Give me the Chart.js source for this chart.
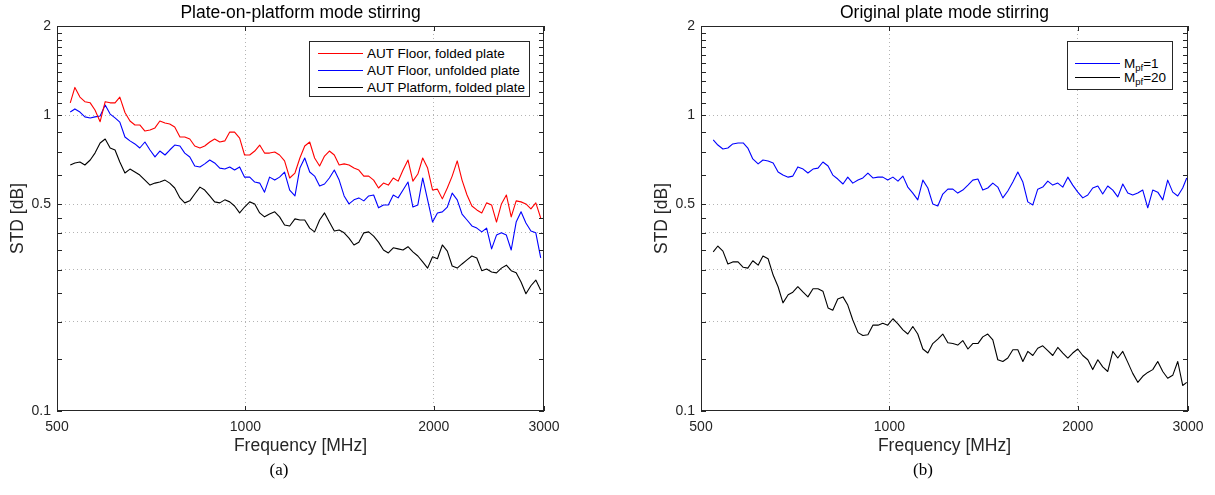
<!DOCTYPE html>
<html>
<head>
<meta charset="utf-8">
<script src="https://cdn.jsdelivr.net/npm/chart.js@4.4.0/dist/chart.umd.min.js"></script>
<style>
  html, body { margin: 0; padding: 0; background: #fff; overflow: hidden; }
  body { width: 1215px; height: 495px; position: relative; font-family: "Liberation Sans", Arial, sans-serif; }
  canvas { position: absolute; top: 0; }
  .legend { position: absolute; box-sizing: border-box; border: 1px solid #262626; background: #fff; font-size: 13.5px; color: #000; }
  .row { position: absolute; left: 0; height: 16px; display: flex; align-items: center; white-space: nowrap; }
  .swatch { width: 45px; height: 1px; margin-right: 4px; flex: none; }
  .row sub { font-size: 9.5px; position: relative; top: 4px; vertical-align: baseline; line-height: 0; }
  .caption { position: absolute; top: 460px; width: 40px; text-align: center; font-family: "Liberation Serif", "Times New Roman", serif; font-size: 17px; line-height: 20px; }
</style>
</head>
<body>
<canvas id="plateOnPlatform" width="601" height="461" style="left:0px"></canvas>
<canvas id="originalPlate" width="601" height="461" style="left:644px"></canvas>

<div class="legend" style="left:309px;top:41px;width:221px;height:56px">
  <div class="row" style="top:3.5px;left:8px"><div class="swatch" style="background:#ff0000"></div>AUT Floor, folded plate</div>
  <div class="row" style="top:20.5px;left:8px"><div class="swatch" style="background:#0000ff"></div>AUT Floor, unfolded plate</div>
  <div class="row" style="top:37.5px;left:8px"><div class="swatch" style="background:#000000"></div>AUT Platform, folded plate</div>
</div>
<div class="legend" style="left:1067px;top:41px;width:106px;height:49px">
  <div class="row" style="top:13.5px;left:7px"><div class="swatch" style="background:#0000ff"></div>M<sub>pf</sub>=1</div>
  <div class="row" style="top:27.5px;left:7px"><div class="swatch" style="background:#000000"></div>M<sub>pf</sub>=20</div>
</div>

<div class="caption" style="left:259px">(a)</div>
<div class="caption" style="left:903px">(b)</div>

<script>
// left panel: plate-on-platform
const freqLeft = [525, 534, 544, 554, 565, 575, 586, 597, 608, 619,
  630, 642, 654, 666, 678, 691, 704, 717, 730, 744,
  757, 771, 786, 800, 815, 830, 846, 861, 877, 893,
  910, 927, 944, 961, 979, 997, 1016, 1035, 1054, 1073,
  1093, 1114, 1134, 1155, 1177, 1200, 1222, 1244, 1267, 1290,
  1314, 1338, 1362, 1387, 1412, 1438, 1464, 1491, 1518, 1546,
  1574, 1603, 1632, 1662, 1692, 1723, 1754, 1786, 1819, 1852,
  1886, 1920, 1955, 1991, 2027, 2064, 2102, 2140, 2180, 2219,
  2260, 2301, 2343, 2386, 2429, 2474, 2519, 2565, 2612, 2659,
  2708, 2757, 2807, 2859, 2911, 2964];

const redFloorFolded = [1.10, 1.24, 1.15, 1.11, 1.10, 1.04, 0.95, 1.11, 1.10, 1.10,
  1.15, 1.02, 0.955, 0.926, 0.926, 0.883, 0.890, 0.905, 0.955, 0.940,
  0.933, 0.912, 0.843, 0.843, 0.830, 0.786, 0.774, 0.786, 0.811, 0.830,
  0.811, 0.818, 0.876, 0.876, 0.836, 0.733, 0.733, 0.756, 0.792, 0.744,
  0.744, 0.750, 0.733, 0.700, 0.613, 0.637, 0.716, 0.786, 0.811, 0.716,
  0.673, 0.727, 0.756, 0.733, 0.678, 0.684, 0.678, 0.662, 0.652, 0.622,
  0.622, 0.603, 0.567, 0.589, 0.580, 0.613, 0.598, 0.652, 0.705, 0.598,
  0.632, 0.716, 0.662, 0.558, 0.562, 0.521, 0.567, 0.622, 0.700, 0.603,
  0.537, 0.493, 0.478, 0.467, 0.505, 0.497, 0.435, 0.501, 0.537, 0.453,
  0.513, 0.509, 0.501, 0.482, 0.505, 0.449];

const blueFloorUnfolded = [1.024, 1.049, 1.024, 0.986, 0.978, 0.986, 0.993, 1.082, 1.008, 0.978,
  0.947, 0.843, 0.818, 0.799, 0.774, 0.811, 0.762, 0.722, 0.756, 0.733,
  0.762, 0.792, 0.786, 0.744, 0.722, 0.673, 0.668, 0.684, 0.705, 0.689,
  0.662, 0.657, 0.668, 0.652, 0.668, 0.617, 0.617, 0.594, 0.589, 0.549,
  0.617, 0.603, 0.617, 0.642, 0.558, 0.533, 0.662, 0.716, 0.642, 0.622,
  0.576, 0.585, 0.613, 0.652, 0.603, 0.533, 0.501, 0.517, 0.525, 0.513,
  0.533, 0.537, 0.486, 0.497, 0.497, 0.537, 0.525, 0.558, 0.594, 0.489,
  0.497, 0.613, 0.517, 0.435, 0.467, 0.471, 0.489, 0.545, 0.517, 0.463,
  0.442, 0.422, 0.415, 0.403, 0.415, 0.353, 0.393, 0.400, 0.393, 0.350,
  0.435, 0.471, 0.432, 0.406, 0.400, 0.329];

const blackPlatformFolded = [0.678, 0.689, 0.694, 0.678, 0.705, 0.744, 0.805, 0.830, 0.774, 0.762,
  0.694, 0.637, 0.657, 0.642, 0.627, 0.603, 0.580, 0.589, 0.594, 0.603,
  0.589, 0.567, 0.525, 0.505, 0.513, 0.541, 0.571, 0.558, 0.533, 0.509,
  0.505, 0.517, 0.509, 0.493, 0.467, 0.489, 0.509, 0.501, 0.467, 0.453,
  0.463, 0.471, 0.453, 0.425, 0.422, 0.446, 0.442, 0.442, 0.415, 0.403,
  0.442, 0.467, 0.435, 0.406, 0.409, 0.400, 0.384, 0.364, 0.372, 0.400,
  0.403, 0.390, 0.372, 0.350, 0.342, 0.356, 0.353, 0.350, 0.359, 0.345,
  0.334, 0.319, 0.304, 0.332, 0.327, 0.364, 0.347, 0.309, 0.304, 0.314,
  0.324, 0.334, 0.329, 0.298, 0.302, 0.295, 0.293, 0.304, 0.311, 0.298,
  0.293, 0.273, 0.249, 0.265, 0.277, 0.256];

// right panel: original plate
const freqRight = [523, 532, 542, 552, 562, 573, 584, 594, 605, 617,
  628, 640, 652, 664, 676, 689, 701, 714, 728, 741,
  755, 769, 783, 798, 812, 827, 843, 858, 874, 891,
  907, 924, 941, 959, 976, 994, 1013, 1032, 1051, 1070,
  1090, 1110, 1131, 1152, 1173, 1195, 1217, 1240, 1263, 1286,
  1310, 1335, 1359, 1385, 1410, 1436, 1463, 1490, 1518, 1546,
  1575, 1604, 1634, 1664, 1695, 1726, 1758, 1791, 1824, 1858,
  1893, 1928, 1963, 2000, 2037, 2075, 2113, 2153, 2192, 2233,
  2275, 2317, 2360, 2404, 2448, 2494, 2540, 2587, 2635, 2684,
  2734, 2784, 2836, 2889, 2942, 2986];

const blueMpf1 = [0.824, 0.792, 0.768, 0.774, 0.799, 0.805, 0.805, 0.774, 0.711, 0.684,
  0.705, 0.700, 0.689, 0.642, 0.627, 0.617, 0.622, 0.668, 0.657, 0.637,
  0.657, 0.662, 0.694, 0.673, 0.627, 0.608, 0.585, 0.617, 0.589, 0.603,
  0.613, 0.637, 0.613, 0.617, 0.617, 0.603, 0.617, 0.598, 0.622, 0.571,
  0.545, 0.517, 0.603, 0.567, 0.501, 0.493, 0.541, 0.562, 0.562, 0.545,
  0.558, 0.580, 0.603, 0.608, 0.558, 0.567, 0.589, 0.571, 0.525, 0.554,
  0.594, 0.642, 0.594, 0.509, 0.497, 0.562, 0.571, 0.598, 0.580, 0.589,
  0.571, 0.617, 0.580, 0.549, 0.525, 0.537, 0.567, 0.576, 0.541, 0.576,
  0.558, 0.529, 0.585, 0.545, 0.537, 0.545, 0.558, 0.486, 0.558, 0.549,
  0.517, 0.603, 0.549, 0.533, 0.567, 0.613];

const blackMpf20 = [0.345, 0.361, 0.347, 0.314, 0.319, 0.319, 0.306, 0.304, 0.322, 0.311,
  0.334, 0.327, 0.288, 0.263, 0.232, 0.247, 0.252, 0.263, 0.252, 0.243,
  0.259, 0.259, 0.254, 0.223, 0.219, 0.239, 0.243, 0.228, 0.203, 0.184,
  0.180, 0.181, 0.195, 0.195, 0.198, 0.195, 0.205, 0.197, 0.188, 0.182,
  0.193, 0.182, 0.162, 0.157, 0.169, 0.175, 0.182, 0.170, 0.169, 0.167,
  0.173, 0.162, 0.169, 0.169, 0.178, 0.182, 0.174, 0.149, 0.147, 0.151,
  0.161, 0.161, 0.147, 0.159, 0.154, 0.163, 0.166, 0.160, 0.154, 0.164,
  0.157, 0.151, 0.157, 0.162, 0.154, 0.149, 0.138, 0.149, 0.141, 0.136,
  0.159, 0.151, 0.159, 0.146, 0.134, 0.125, 0.131, 0.135, 0.138, 0.147,
  0.136, 0.129, 0.132, 0.147, 0.122, 0.125];

// axes
const xTickValues = [500, 1000, 2000, 3000];
const xGridValues = [1000, 2000];
const yTickValues = [0.1, 0.2, 0.3, 0.4, 0.5, 1, 2];
const yTickLabels = ['0.1', '', '', '', '0.5', '1', '2'];
const yGridValues = [0.2, 0.3, 0.4, 0.5, 1];
const yMinorTicks = [0.15, 0.25, 0.35, 0.45, 0.625, 0.75, 0.875, 1.1, 1.2, 1.3, 1.4, 1.5, 1.6, 1.7, 1.8, 1.9];

const axisColor = '#262626';
const gridColor = '#b4b4b4';
const font = '"Liberation Sans", Arial, sans-serif';

function pts(freq, vals) {
  return freq.map((f, i) => ({ x: f, y: vals[i] }));
}

// box around the plot + inward ticks, like matlab
const framePlugin = {
  id: 'frame',
  afterDatasetsDraw(chart) {
    const { ctx, chartArea: a, scales: { x, y } } = chart;
    const tl = 5;
    ctx.save();
    ctx.strokeStyle = axisColor;
    ctx.lineWidth = 1;
    ctx.beginPath();
    yTickValues.concat(yMinorTicks).forEach(v => {
      const py = Math.round(y.getPixelForValue(v)) + 0.5;
      ctx.moveTo(a.left, py); ctx.lineTo(a.left + tl, py);
      ctx.moveTo(a.right, py); ctx.lineTo(a.right - tl, py);
    });
    xTickValues.forEach(v => {
      const px = Math.round(x.getPixelForValue(v)) + 0.5;
      ctx.moveTo(px, a.bottom); ctx.lineTo(px, a.bottom - tl);
      ctx.moveTo(px, a.top); ctx.lineTo(px, a.top + tl);
    });
    ctx.stroke();
    ctx.strokeRect(Math.round(a.left) + 0.5, Math.round(a.top) + 0.5,
      Math.round(a.right - a.left) - 1, Math.round(a.bottom - a.top) - 1);
    ctx.restore();
  }
};

function makeChart(id, title, datasets) {
  return new Chart(document.getElementById(id), {
    type: 'line',
    data: { datasets: datasets },
    options: {
      responsive: false,
      animation: false,
      devicePixelRatio: 1,
      events: [],
      layout: { padding: 0 },
      elements: { point: { radius: 0 }, line: { tension: 0, borderWidth: 1.1, borderJoinStyle: 'round' } },
      plugins: {
        legend: { display: false },
        tooltip: { enabled: false },
        title: {
          display: true, text: title, color: '#000',
          font: { family: font, size: 17.5, weight: 'normal' },
          padding: { top: 2.5, bottom: 2.5 }
        }
      },
      scales: {
        x: {
          type: 'logarithmic', min: 500, max: 3000,
          afterBuildTicks: s => { s.ticks = xTickValues.map(v => ({ value: v })); },
          afterFit: s => { s.height = 50; },
          ticks: {
            autoSkip: false, maxRotation: 0, padding: 8, color: axisColor,
            font: { family: font, size: 14 },
            callback: v => String(v)
          },
          grid: {
            drawTicks: false, lineWidth: 1,
            color: c => (c.tick && xGridValues.includes(c.tick.value)) ? gridColor : 'rgba(0,0,0,0)'
          },
          border: { display: false, dash: [1, 3] },
          title: {
            display: true, text: 'Frequency [MHz]', color: axisColor,
            font: { family: font, size: 17.5 }, padding: { top: 0, bottom: 4.5 }
          }
        },
        y: {
          type: 'logarithmic', min: 0.1, max: 2,
          afterBuildTicks: s => { s.ticks = yTickValues.map(v => ({ value: v })); },
          afterFit: s => { s.width = 57; },
          ticks: {
            autoSkip: false, padding: 6, color: axisColor,
            font: { family: font, size: 14 },
            callback: (v, i) => yTickLabels[i]
          },
          grid: {
            drawTicks: false, lineWidth: 1,
            color: c => (c.tick && yGridValues.includes(c.tick.value)) ? gridColor : 'rgba(0,0,0,0)'
          },
          border: { display: false, dash: [1, 3] },
          title: {
            display: true, text: 'STD [dB]', color: axisColor,
            font: { family: font, size: 17.5 }, padding: { top: 7.5, bottom: 0 }
          }
        },
        // empty right axis, only keeps the plot symmetric under the title
        spacer: {
          type: 'linear', position: 'right',
          afterFit: s => { s.width = 57; },
          ticks: { display: false },
          grid: { display: false, drawTicks: false },
          border: { display: false }
        }
      }
    },
    plugins: [framePlugin]
  });
}

makeChart('plateOnPlatform', 'Plate-on-platform mode stirring', [
  { label: 'AUT Floor, folded plate', data: pts(freqLeft, redFloorFolded), borderColor: '#ff0000' },
  { label: 'AUT Floor, unfolded plate', data: pts(freqLeft, blueFloorUnfolded), borderColor: '#0000ff' },
  { label: 'AUT Platform, folded plate', data: pts(freqLeft, blackPlatformFolded), borderColor: '#000000' }
]);

makeChart('originalPlate', 'Original plate mode stirring', [
  { label: 'Mpf=1', data: pts(freqRight, blueMpf1), borderColor: '#0000ff' },
  { label: 'Mpf=20', data: pts(freqRight, blackMpf20), borderColor: '#000000' }
]);
</script>
</body>
</html>
